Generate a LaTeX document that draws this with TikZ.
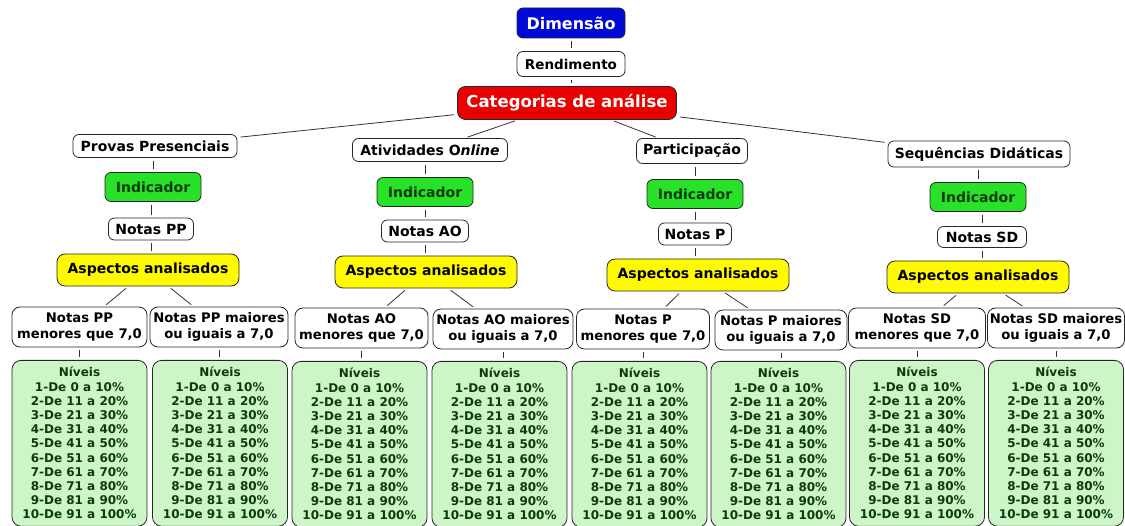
\documentclass[tikz,border=0pt]{standalone}
\usepackage{fontspec}
\setmainfont{DejaVu Sans}
\definecolor{azul}{RGB}{0,10,215}
\definecolor{vermelho}{RGB}{235,0,0}
\definecolor{verde}{RGB}{40,225,40}
\definecolor{verdeesc}{RGB}{10,60,10}
\definecolor{amarelo}{RGB}{255,250,0}
\definecolor{verdeclaro}{RGB}{205,245,200}
\newcommand{\niveis}{Níveis\\1-De 0 a 10\%\\2-De 11 a 20\%\\3-De 21 a 30\%\\4-De 31 a 40\%\\5-De 41 a 50\%\\6-De 51 a 60\%\\7-De 61 a 70\%\\8-De 71 a 80\%\\9-De 81 a 90\%\\10-De 91 a 100\%}
\begin{document}
\begin{tikzpicture}[x=1pt,y=1pt,yscale=-1,xscale=1,
  caixa/.style={draw=black!85,rounded corners=6pt,line width=0.8pt,inner sep=0pt,align=center,font=\bfseries\fontsize{14}{16}\selectfont},
  branca/.style={caixa,fill=white},
  indic/.style={caixa,fill=verde,text=verdeesc,minimum width=96,minimum height=29},
  aspec/.style={caixa,fill=amarelo,rounded corners=8pt,minimum width=182,minimum height=32},
  nota/.style={branca,minimum height=40,rounded corners=8pt,font=\bfseries\fontsize{13.2}{16.5}\selectfont},
  nivel/.style={caixa,fill=verdeclaro,text=verdeesc,anchor=north,minimum width=135,inner ysep=7pt,rounded corners=9pt,font=\bfseries\fontsize{12}{14.2}\selectfont},
  liga/.style={line width=0.8pt,draw=black!80,shorten >=3pt,shorten <=3pt}]
\useasboundingbox (0,0) rectangle (1125,526);
\clip (0,0) rectangle (1125,526);

% Topo
\node [caixa,fill=azul,text=white,minimum width=108,minimum height=30,font=\bfseries\fontsize{16}{18}\selectfont] (dim) at (571,23) {Dimensão};
\node [branca,minimum width=108,minimum height=25,font=\bfseries\fontsize{13.5}{16}\selectfont] (rend) at (571,64) {Rendimento};
\node [caixa,fill=vermelho,text=white,minimum width=219,minimum height=33,rounded corners=8pt,font=\bfseries\fontsize{16.5}{18}\selectfont] (cat) at (567,103) {Categorias de análise};

% Categorias
\node [branca,minimum width=164,minimum height=23] (pp) at (155,146) {Provas Presenciais};
\node [branca,minimum width=155,minimum height=23] (ao) at (430,150) {Atividades O\textit{nline}};
\node [branca,minimum width=111,minimum height=25] (pa) at (692,151) {Participação};
\node [branca,minimum width=182,minimum height=26] (sd) at (979,154) {Sequências Didáticas};

% Indicadores
\node [indic] (indPP) at (153,187) {Indicador};
\node [indic] (indAO) at (425,192) {Indicador};
\node [indic] (indPA) at (695,194) {Indicador};
\node [indic] (indSD) at (978,197) {Indicador};

% Notas
\node [branca,minimum width=85,minimum height=22] (notPP) at (151,229) {Notas PP};
\node [branca,minimum width=87,minimum height=22] (notAO) at (425,231) {Notas AO};
\node [branca,minimum width=73,minimum height=22] (notPA) at (695,234) {Notas P};
\node [branca,minimum width=89,minimum height=21] (notSD) at (982,237) {Notas SD};

% Aspectos
\node [aspec] (aspPP) at (148,270) {Aspectos analisados};
\node [aspec] (aspAO) at (426,272) {Aspectos analisados};
\node [aspec] (aspPA) at (698,275) {Aspectos analisados};
\node [aspec] (aspSD) at (978,277) {Aspectos analisados};

% Notas menores / maiores
\node [nota,minimum width=135] (menPP) at (79.5,327) {Notas PP\\menores que 7,0};
\node [nota,minimum width=138] (maiPP) at (219,327) {Notas PP maiores\\ou iguais a 7,0};
\node [nota,minimum width=133] (menAO) at (361.5,328) {Notas AO\\menores que 7,0};
\node [nota,minimum width=140] (maiAO) at (503,329) {Notas AO maiores\\ou iguais a 7,0};
\node [nota,minimum width=133] (menPA) at (643,329) {Notas P\\menores que 7,0};
\node [nota,minimum width=132] (maiPA) at (781,330) {Notas P maiores\\ou iguais a 7,0};
\node [nota,minimum width=137] (menSD) at (917,328) {Notas SD\\menores que 7,0};
\node [nota,minimum width=137] (maiSD) at (1056,328) {Notas SD maiores\\ou iguais a 7,0};

% Niveis
\node [nivel] (nivPPmen) at (79.5,360) {\niveis};
\node [nivel] (nivPPmai) at (220,360) {\niveis};
\node [nivel] (nivAOmen) at (359.5,361) {\niveis};
\node [nivel] (nivAOmai) at (499.5,361) {\niveis};
\node [nivel] (nivPAmen) at (639.5,361) {\niveis};
\node [nivel] (nivPAmai) at (778.5,361) {\niveis};
\node [nivel] (nivSDmen) at (917,360) {\niveis};
\node [nivel] (nivSDmai) at (1056,360) {\niveis};

% Ligacoes
\draw [liga] (dim) -- (dim |- rend.north);
\draw [liga] (rend) -- (rend |- cat.north);
\draw [liga] (cat) -- (pp);
\draw [liga] (cat) -- (ao);
\draw [liga] (cat) -- (pa);
\draw [liga] (cat) -- (sd);
\draw [liga] (indPP.north) -- (indPP.north |- pp.south);
\draw [liga] (indAO.north) -- (indAO.north |- ao.south);
\draw [liga] (indPA.north) -- (indPA.north |- pa.south);
\draw [liga] (indSD.north) -- (indSD.north |- sd.south);
\draw [liga] (notPP.north) -- (notPP.north |- indPP.south);
\draw [liga] (notAO.north) -- (notAO.north |- indAO.south);
\draw [liga] (notPA.north) -- (notPA.north |- indPA.south);
\draw [liga] (notSD.north) -- (notSD.north |- indSD.south);
\draw [liga] (notPP.south) -- (notPP.south |- aspPP.north);
\draw [liga] (notAO.south) -- (notAO.south |- aspAO.north);
\draw [liga] (notPA.south) -- (notPA.south |- aspPA.north);
\draw [liga] (notSD.south) -- (notSD.south |- aspSD.north);
\draw [liga] (aspPP) -- (menPP);
\draw [liga] (aspPP) -- (maiPP);
\draw [liga] (aspAO) -- (menAO);
\draw [liga] (aspAO) -- (maiAO);
\draw [liga] (aspPA) -- (menPA);
\draw [liga] (aspPA) -- (maiPA);
\draw [liga] (aspSD) -- (menSD);
\draw [liga] (aspSD) -- (maiSD);
\draw [liga] (menPP) -- (menPP |- nivPPmen.north);
\draw [liga] (maiPP) -- (maiPP |- nivPPmai.north);
\draw [liga] (menAO) -- (menAO |- nivAOmen.north);
\draw [liga] (maiAO) -- (maiAO |- nivAOmai.north);
\draw [liga] (menPA) -- (menPA |- nivPAmen.north);
\draw [liga] (maiPA) -- (maiPA |- nivPAmai.north);
\draw [liga] (menSD) -- (menSD |- nivSDmen.north);
\draw [liga] (maiSD) -- (maiSD |- nivSDmai.north);
\end{tikzpicture}
\end{document}
